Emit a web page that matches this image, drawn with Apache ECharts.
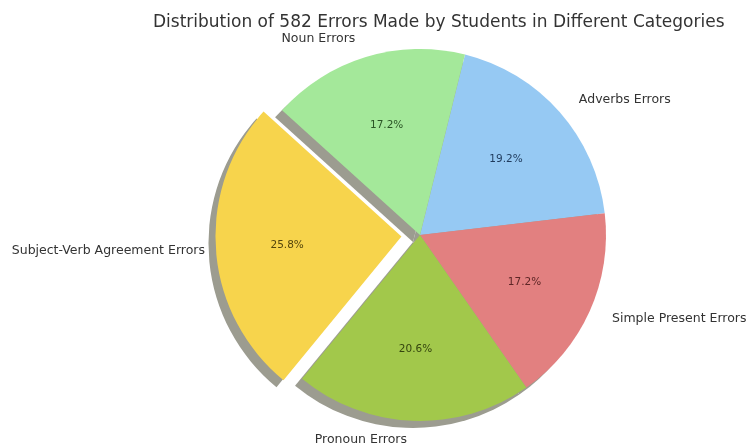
<!DOCTYPE html>
<html>
<head>
<meta charset="utf-8">
<script src="https://cdn.jsdelivr.net/npm/echarts@6/dist/echarts.min.js"></script>
<style>
html,body{margin:0;padding:0;background:#fff;}
#c{width:750px;height:443px;}
</style>
</head>
<body>
<div id="c"></div>
<script>
// Data (clockwise order starting near the top)
const categories = ['Adverbs Errors', 'Simple Present Errors', 'Pronoun Errors', 'Subject-Verb Agreement Errors', 'Noun Errors'];
const counts = [112, 100, 120, 150, 100];
const explodedCategory = 'Subject-Verb Agreement Errors';
const titleText = 'Distribution of 582 Errors Made by Students in Different Categories';

const colors = ['#96c9f3', '#e28080', '#a2c84b', '#f7d44c', '#a4e89a'];
const pctColors = ['#1f3a5c', '#5e2626', '#34440e', '#55460c', '#2b5526'];

const chart = echarts.init(document.getElementById('c'), null, {renderer: 'canvas'});

const OFF = 300;          // widen the series box so labels are not constrained
const CX = 420, CY = 235, R = 186, EXPLODE = 18.6;
const SH_DX = -7, SH_DY = 7;

function makeData(kind) {
  return categories.map((name, i) => {
    const item = {name: name, value: counts[i], selected: name === explodedCategory};
    if (kind === 'shadow') item.itemStyle = {color: '#9c9c90'};
    else if (kind === 'main') {
      item.itemStyle = {color: colors[i]};
      if (name === explodedCategory) item.labelLine = {show: false, length: 6, length2: 0};
    }
    else { item.itemStyle = {color: 'rgba(0,0,0,0)'}; item.label = {color: pctColors[i]}; }
    return item;
  });
}

const common = {
  type: 'pie',
  left: -OFF, right: -OFF, top: 0, bottom: 0,
  startAngle: 76,
  clockwise: true,
  selectedMode: 'single',
  selectedOffset: EXPLODE,
  avoidLabelOverlap: false,
  animation: false,
  silent: true,
  emphasis: {disabled: true, scale: false},
  labelLine: {show: false}
};

chart.setOption({
  backgroundColor: '#ffffff',
  title: {
    text: titleText,
    left: 148, top: 9,
    textStyle: {fontFamily: 'DejaVu Sans', fontSize: 17, fontWeight: 'normal', color: '#333'}
  },
  series: [
    Object.assign({}, common, {
      name: 'shadow',
      center: [CX + OFF + SH_DX, CY + SH_DY],
      radius: [0, R],
      label: {show: false},
      data: makeData('shadow')
    }),
    Object.assign({}, common, {
      name: 'main',
      center: [CX + OFF, CY],
      radius: [0, R],
      label: {
        show: true, position: 'outside', formatter: '{b}',
        fontFamily: 'DejaVu Sans', fontSize: 12.5, color: '#333',
        bleedMargin: 0
      },
      labelLine: {show: false, length: 19, length2: 0},
      data: makeData('main')
    }),
    Object.assign({}, common, {
      name: 'pct',
      center: [CX + OFF, CY],
      radius: [R * 0.2, R],
      percentPrecision: 1,
      label: {
        show: true, position: 'inside', formatter: '{d}%',
        fontFamily: 'DejaVu Sans', fontSize: 10.5
      },
      data: makeData('pct')
    })
  ]
});
</script>
</body>
</html>
